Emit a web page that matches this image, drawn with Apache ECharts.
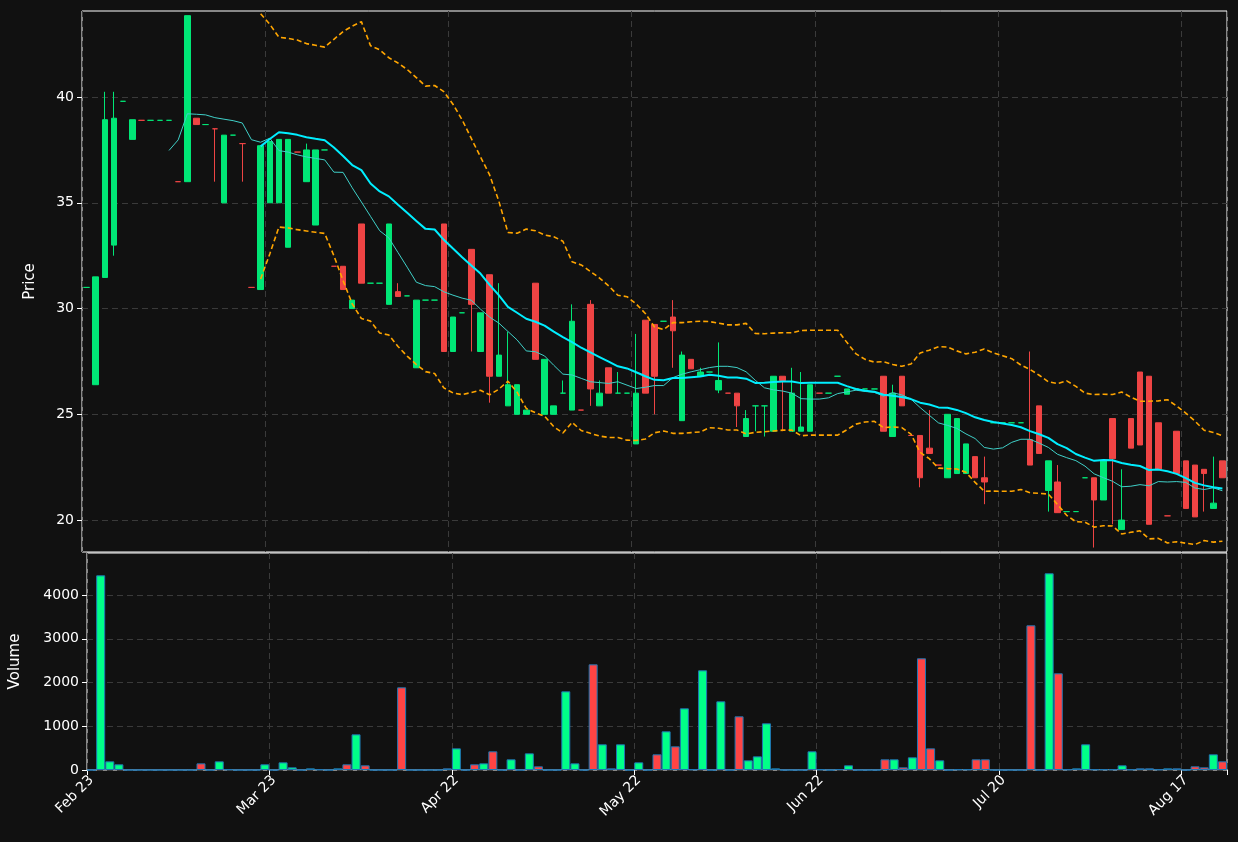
<!DOCTYPE html>
<html><head><meta charset="utf-8">
<script src="https://cdn.jsdelivr.net/npm/echarts@6/dist/echarts.min.js"></script>
<style>html,body{margin:0;padding:0;background:#111111;}#c{width:1238px;height:842px;}</style>
</head><body><div id="c"></div>
<script>
// OHLC per bar: [open, close, low, high]
const opens  = [31,26.4,31.47,33,39.8,38,38.9,38.9,38.9,38.9,36,36,39,38.7,38.5,35,38.2,37.8,31,30.9,
 35,35,32.9,37.4,36,33.95,37.5,32,32,30,34,31.2,31.2,30.2,30.8,30.6,27.2,30.4,30.4,34,
 27.97,29.8,32.8,27.97,31.6,26.8,25.4,25,25,31.2,25,25,26,25.2,25.2,30.2,25.4,27.2,26,26,
 23.6,29.45,29.25,29.4,29.6,24.7,27.6,26.8,27,26.15,26,26,23.95,25.4,25.4,24.2,26.8,24.2,24.2,24.2,
 26,26,26.8,25.95,26.2,26.2,26.2,26.8,23.95,26.8,24,24,23.4,22.6,22,22.2,22.2,23,22,24.6,
 24.6,24.6,24.6,23.8,25.4,21.4,21.8,20.4,20.4,22,22,20.95,24.8,19.55,24.8,27,26.8,24.6,20.2,24.2,
 22.8,22.6,22.4,20.55,22.8];
const closes = [31,31.5,38.93,39,39.8,38.93,38.9,38.9,38.9,38.9,36,43.85,38.7,38.7,38.5,38.2,38.2,37.8,31,37.7,
 37.9,38,38,37.4,37.5,37.5,37.5,32,30.9,30.4,31.2,31.2,31.2,34,30.57,30.6,30.4,30.4,30.4,27.97,
 29.6,29.8,30.2,29.8,26.8,27.8,26.4,26.4,25.2,27.6,27.6,25.4,26,29.4,25.2,26.2,26,26,26,26,
 26,26,26.8,29.4,28.95,27.8,27.15,27,27,26.6,26,25.4,24.8,25.4,25.4,26.8,26.6,26,24.4,26.4,
 26,26,26.8,26.2,26.2,26.2,26.2,24.2,26,25.4,24,22,23.15,22.6,25,24.8,23.6,22,21.8,24.6,
 24.6,24.6,24.6,22.6,23.15,22.8,20.35,20.4,20.4,22,20.95,22.8,22.9,20,23.4,23.55,19.8,22.4,20.2,22.2,
 20.55,20.15,22.2,20.8,22];
const lows   = [31,26.4,31.47,32.5,39.8,38,38.9,38.9,38.9,38.9,36,36,38.7,38.7,36,35,38.2,36,31,30.9,
 35,35,32.9,37.4,36,33.95,37.5,32,30.9,30,31.2,31.2,31.2,30.2,30.57,30.6,27.2,30.4,30.4,27.97,
 27.97,29.8,27.97,27.97,25.55,26.8,25.4,25,25,27.6,25,25,26,25.2,25.2,25.4,25.4,26,26,26,
 23.6,26,25,29.4,27.2,24.7,27.15,26.8,27,26,26,24.4,23.95,24.2,23.95,24.2,24.2,24.2,24.2,24.2,
 26,26,26.8,25.95,26.2,26.2,26.2,24.2,23.95,25.4,24,21.55,23.15,22.6,22,22.2,22.2,22,20.75,24.6,
 24.6,24.6,24.6,22.6,23.15,20.4,20.35,20.4,20.4,22,18.7,20.95,19.8,19.55,23.4,23.55,19.8,22.4,20.2,22.2,
 20.55,20.15,20.4,20.55,22];
const highs  = [31,31.5,40.25,40.25,39.8,38.93,38.9,38.9,38.9,38.9,36,43.85,39,38.7,38.5,38.2,38.2,37.8,31,37.7,
 37.9,38,38,37.4,37.8,37.5,37.5,32,32,30.4,34,31.2,31.2,34,31.2,30.6,30.4,30.4,30.4,34,
 29.6,29.8,32.8,29.8,31.6,31.2,28.9,26.4,25.2,31.2,27.6,25.4,26.6,30.2,25.2,30.4,26.6,27.2,27,26,
 28.8,29.45,29.25,29.4,30.4,27.97,27.6,27.2,27,28.4,26,26,25.2,25.4,25.4,26.8,26.8,27.2,27,26.4,
 26,26,26.8,26.2,26.2,26.2,26.2,26.8,26.4,26.8,24,24,25.2,22.6,25,24.8,23.6,23,23,24.6,
 24.6,24.6,24.6,27.97,25.4,22.8,22.6,20.4,20.4,22,22,22.8,24.8,22.4,24.8,27,26.8,24.6,20.2,24.2,
 22.8,22.6,22.4,23,22.8];
const volumes = [0,4450,198,130,0,0,0,0,0,0,0,0,152,0,198,15,0,0,0,130,
 0,175,61,0,38,15,0,38,130,815,107,0,0,0,1890,0,0,0,0,38,
 495,0,130,152,427,0,244,0,381,84,0,0,1798,152,0,2415,587,38,587,0,
 175,0,358,884,541,1410,15,2278,0,1570,0,1227,221,312,1067,38,0,0,0,427,
 15,0,20,107,0,0,0,244,244,61,290,2553,495,221,0,15,15,244,244,0,
 0,0,0,3307,0,4496,2210,15,38,587,15,15,15,107,15,38,38,15,38,38,
 0,84,61,358,198];
const tickLabels = ['Feb 23','Mar 23','Apr 22','May 22','Jun 22','Jul 20','Aug 17'];
const tickStep = 20;

const cats = closes.map((_, i) => (i % tickStep === 0 && tickLabels[i / tickStep]) ? tickLabels[i / tickStep] : String(i));
const ohlc = closes.map((c, i) => [opens[i], c, lows[i], highs[i]]);
function rolling(p, fn) {
  return closes.map((_, i) => i < p - 1 ? '-' : fn(closes.slice(i - p + 1, i + 1)));
}
const mean = a => a.reduce((s, v) => s + v, 0) / a.length;
const sd = a => { const m = mean(a); return Math.sqrt(a.reduce((s, v) => s + (v - m) * (v - m), 0) / (a.length - 1)); };
const ma20 = rolling(20, mean);
const ma10 = rolling(10, mean);
const up = rolling(20, a => mean(a) + 2 * sd(a));
const lo = rolling(20, a => mean(a) - 2 * sd(a));
const GREEN = '#00e676', RED = '#ef4444';
const vol = volumes.map((v, i) => ({ value: v, itemStyle: { color: closes[i] >= opens[i] ? '#00ff88' : '#ff4444' } }));
const showTick = (i) => i % tickStep === 0;

const chart = echarts.init(document.getElementById('c'));
const xBase = {
  type: 'category', data: cats, boundaryGap: true,
  axisLine: { show: false },
  splitLine: { show: true, interval: showTick, lineStyle: { color: '#3a3a3a', type: [6, 4] } },
};
chart.setOption({
  backgroundColor: '#111111',
  animation: false,
  grid: [
    { left: 82, right: 11, top: 11, height: 541, show: true, borderColor: '#ffffff', borderWidth: 1, backgroundColor: 'transparent' },
    { left: 82, right: 11, top: 553, height: 217, show: true, borderColor: '#ffffff', borderWidth: 1, backgroundColor: 'transparent' }
  ],
  xAxis: [
    Object.assign({}, xBase, { gridIndex: 0, axisLabel: { show: false }, axisTick: { show: false } }),
    Object.assign({}, xBase, { gridIndex: 1,
      axisTick: { show: true, interval: showTick, length: 5, lineStyle: { color: '#ffffff' } },
      axisLabel: { interval: showTick, rotate: 45, color: '#ffffff', fontSize: 14, fontFamily: 'DejaVu Sans', margin: 8,
        formatter: (v, i) => tickLabels[i / tickStep] || '' } })
  ],
  yAxis: [
    { type: 'value', gridIndex: 0, min: 18.49, max: 44.07, name: 'Price', nameLocation: 'middle', nameGap: 44,
      nameTextStyle: { color: '#ffffff', fontSize: 15, fontFamily: 'DejaVu Sans' },
      axisLine: { show: false },
      axisTick: { show: true, customValues: [20, 25, 30, 35, 40], length: 5, lineStyle: { color: '#ffffff' } },
      axisLabel: { customValues: [20, 25, 30, 35, 40], color: '#ffffff', fontSize: 14, fontFamily: 'DejaVu Sans' },
      splitLine: { show: true, lineStyle: { color: '#3a3a3a', type: [6, 4] } } },
    { type: 'value', gridIndex: 1, min: 0, max: 4960, interval: 1000, name: 'Volume', nameLocation: 'middle', nameGap: 64,
      nameTextStyle: { color: '#ffffff', fontSize: 15, fontFamily: 'DejaVu Sans' },
      axisLine: { show: false },
      axisTick: { show: true, length: 5, lineStyle: { color: '#ffffff' } },
      axisLabel: { color: '#ffffff', fontSize: 14, fontFamily: 'DejaVu Sans', showMaxLabel: false, formatter: v => String(v) },
      splitLine: { show: true, showMaxLine: false, lineStyle: { color: '#3a3a3a', type: [6, 4] } } }
  ],
  series: [
    { type: 'candlestick', xAxisIndex: 0, yAxisIndex: 0, data: ohlc, barWidth: 6,
      itemStyle: { color: GREEN, color0: RED, borderColor: GREEN, borderColor0: RED, borderWidth: 1 } },
    { type: 'line', xAxisIndex: 0, yAxisIndex: 0, data: ma10, symbol: 'none', lineStyle: { color: '#3fd0c8', width: 1 } },
    { type: 'line', xAxisIndex: 0, yAxisIndex: 0, data: ma20, symbol: 'none', lineStyle: { color: '#00eeff', width: 2 } },
    { type: 'line', xAxisIndex: 0, yAxisIndex: 0, data: up, symbol: 'none', lineStyle: { color: '#ffa500', width: 1.6, type: [5, 3] } },
    { type: 'line', xAxisIndex: 0, yAxisIndex: 0, data: lo, symbol: 'none', lineStyle: { color: '#ffa500', width: 1.6, type: [5, 3] } },
    { type: 'bar', xAxisIndex: 1, yAxisIndex: 1, data: vol, barWidth: 9,
      itemStyle: { borderColor: '#1f77b4', borderWidth: 1 } }
  ]
});
</script></body></html>
